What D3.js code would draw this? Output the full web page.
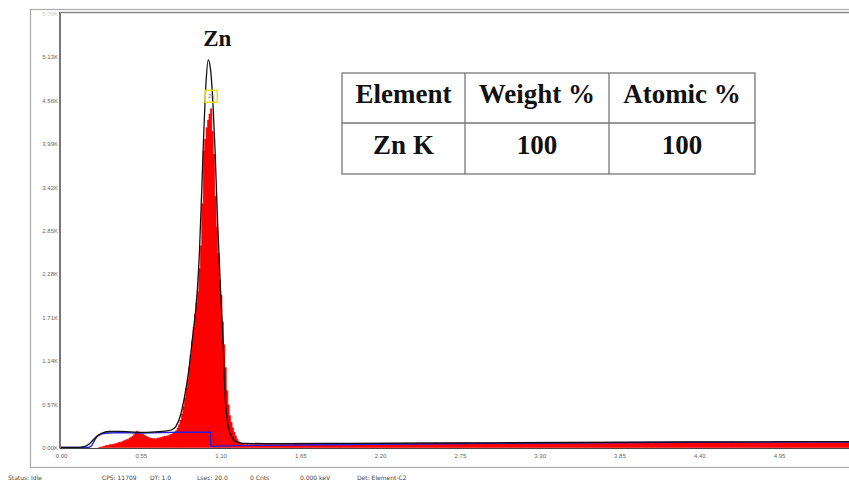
<!DOCTYPE html>
<html>
<head>
<meta charset="utf-8">
<script src="https://cdn.jsdelivr.net/npm/d3@7"></script>
<style>
  body { margin: 0; background: #fff; }
  svg { display: block; font-family: "DejaVu Sans", sans-serif; }
</style>
</head>
<body>
<div id="chart"></div>
<script>
// EDS spectrum (counts vs keV)
const peakStart = 0.26
const peakStep = 0.01
const peakCounts = [
  0, 5, 10, 15, 20, 28, 25, 35, 40, 38, 45, 50, 55, 62, 70, 68, 80, 90, 95, 105,
  110, 125, 135, 150, 170, 195, 215, 205, 190, 170, 180, 160, 150, 140, 130, 125, 120, 115, 118, 110,
  125, 120, 130, 135, 140, 150, 145, 155, 160, 170, 175, 190, 200, 220, 255, 300, 360, 440, 540, 650,
  780, 900, 1050, 1220, 1400, 1580, 1750, 1900, 2050, 2350, 2650, 3200, 3900, 4050, 4200, 4300, 4380, 4450, 4150, 3850,
  3300, 2900, 2550, 2200, 2000, 1650, 1350, 1050, 750, 560, 420, 330, 260, 200, 150, 110, 80, 60, 50, 45,
  40, 38, 42, 36, 40
]
const tailStart = 1.35
const tailStep = 0.05
const tailCounts = [
  38, 42, 40, 44, 41, 45, 43, 47, 44, 46, 48, 45, 50, 47, 49, 52, 48, 51, 53, 50,
  54, 52, 55, 51, 56, 53, 57, 55, 58, 54, 56, 59, 55, 58, 60, 57, 59, 61, 58, 62,
  60, 63, 59, 62, 64, 61, 63, 65, 62, 66, 64, 67, 63, 66, 68, 65, 67, 69, 66, 68,
  70, 67, 69, 66, 68, 70, 67, 69, 65, 68, 66, 69, 67, 65, 68, 66, 64, 67, 65, 66,
  64, 66, 65, 64
]

// fitted spectrum (black) and background (blue)
const fitKeV = [0, 0.10, 0.13, 0.16, 0.19, 0.22, 0.25, 0.28, 0.33, 0.40, 0.48, 0.56, 0.65, 0.72, 0.76, 0.79, 0.82, 0.85, 0.88, 0.905,
  0.94, 0.955, 0.98, 1.00, 1.015, 1.03, 1.048, 1.062, 1.08, 1.10, 1.117, 1.131, 1.15, 1.18, 1.21, 1.26, 1.5, 2.0, 3.0, 4.0, 5.0, 5.5]
const fitCounts = [0, 0, 2, 10, 40, 95, 150, 185, 210, 212, 205, 198, 205, 215, 230, 270, 400, 650, 1000, 1410,
  2070, 2590, 3910, 4800, 5090, 4980, 4500, 3910, 2950, 2070, 1410, 700, 320, 130, 75, 55, 50, 55, 62, 70, 76, 76]
const bgKeV = [0, 0.19, 0.21, 0.23, 0.25, 0.28, 0.33, 0.40, 0.55, 0.70, 0.80, 1.03, 1.033, 1.2, 2.0, 3.0, 4.0, 5.0, 5.5]
const bgCounts = [0, 0, 20, 90, 150, 180, 190, 195, 190, 195, 200, 200, 15, 25, 40, 55, 65, 72, 72]

const yTicks = [0, 570, 1140, 1710, 2280, 2850, 3420, 3990, 4560, 5130, 5700]
const xTicks = [0, 0.55, 1.10, 1.65, 2.20, 2.75, 3.30, 3.85, 4.40, 4.95]

const peakLabel = 'Zn'
const tableHeaders = ['Element', 'Weight %', 'Atomic %']
const tableRows = [['Zn K', '100', '100']]
const statusItems = ['Status: Idle', 'CPS: 11709', 'DT: 1.0', 'Lsec: 20.0', '0 Cnts', '0.000 keV', 'Det: Element-C2']

const W = 849, H = 483
const svg = d3.select('#chart').append('svg').attr('width', W).attr('height', H)

const x = d3.scaleLinear().domain([0, 5.5]).range([61, 61 + 5.5 * 145.05])
const y = d3.scaleLinear().domain([0, 5700]).range([447.5, 13.5])

// outer frame
svg.append('rect').attr('x', 30.5).attr('y', 9.5).attr('width', W).attr('height', 458)
  .attr('fill', 'none').attr('stroke', '#aaa').attr('stroke-width', 1.2)

svg.append('defs').append('clipPath').attr('id', 'plotClip')
  .append('rect').attr('x', 61).attr('y', 13).attr('width', W - 61).attr('height', 435)

const plot = svg.append('g').attr('clip-path', 'url(#plotClip)')

const spectrum = peakCounts.map((c, i) => ({ e: peakStart + i * peakStep, c }))
  .concat(tailCounts.map((c, i) => ({ e: tailStart + i * tailStep, c })))

plot.append('path')
  .datum(spectrum)
  .attr('fill', '#ff0000')
  .attr('stroke', '#ff0000').attr('stroke-width', 0.6)
  .attr('d', d3.area().curve(d3.curveStepAfter).x((d) => x(d.e)).y0(y(0)).y1((d) => y(d.c)))

plot.append('path')
  .datum(bgKeV.map((e, i) => [e, bgCounts[i]]))
  .attr('fill', 'none').attr('stroke', '#2020e0').attr('stroke-width', 1.4)
  .attr('d', d3.line().x((d) => x(d[0])).y((d) => y(d[1])))

plot.append('path')
  .datum(fitKeV.map((e, i) => [e, fitCounts[i]]))
  .attr('fill', 'none').attr('stroke', '#111').attr('stroke-width', 1.3)
  .attr('d', d3.line().curve(d3.curveMonotoneX).x((d) => x(d[0])).y((d) => y(d[1])))

// axes
const yAxis = svg.append('g').attr('transform', 'translate(60,0)')
  .call(d3.axisLeft(y).tickValues(yTicks).tickSize(0).tickPadding(2)
    .tickFormat((d) => (d / 1000).toFixed(2) + 'K'))
yAxis.select('.domain').remove()
yAxis.selectAll('text').attr('font-size', 6).attr('fill', '#666')
  .attr('opacity', (d) => (d === 5700 ? 0.35 : 1))

const xAxis = svg.append('g').attr('transform', 'translate(0,448)')
  .call(d3.axisBottom(x).tickValues(xTicks).tickSize(0).tickPadding(6)
    .tickFormat(d3.format('.2f')))
xAxis.select('.domain').remove()
xAxis.selectAll('text').attr('font-size', 6).attr('fill', '#666')

svg.append('line').attr('x1', 60).attr('x2', 60).attr('y1', 12).attr('y2', 448.5)
  .attr('stroke', '#555').attr('stroke-width', 1.6)
svg.append('line').attr('x1', 60).attr('x2', W).attr('y1', 448.5).attr('y2', 448.5)
  .attr('stroke', '#444').attr('stroke-width', 1.2)
svg.append('line').attr('x1', 60).attr('x2', W).attr('y1', 12.5).attr('y2', 12.5)
  .attr('stroke', '#888').attr('stroke-width', 1.4)

// peak label and marker
const peakE = fitKeV[fitCounts.indexOf(d3.max(fitCounts))]
svg.append('text').attr('x', x(peakE) + 9).attr('y', 46)
  .attr('text-anchor', 'middle').attr('font-family', '"Liberation Serif", "Times New Roman", serif')
  .attr('font-weight', 'bold').attr('font-size', 23).attr('fill', '#111').text(peakLabel)
const marker = svg.append('g').attr('transform', `translate(${x(peakE) + 3},${y(4560) - 4})`)
marker.append('rect').attr('x', -6).attr('y', -6).attr('width', 12).attr('height', 12)
  .attr('fill', 'none').attr('stroke', '#eee000').attr('stroke-width', 1.5)
marker.append('text').attr('text-anchor', 'middle').attr('y', 2).attr('font-size', 5)
  .attr('fill', '#777').text(peakLabel)

// results table
const colEdges = [342, 465, 609, 755]
const rowEdges = [73, 123, 174]
const table = svg.append('g')
table.append('rect').attr('x', colEdges[0]).attr('y', rowEdges[0])
  .attr('width', colEdges[3] - colEdges[0]).attr('height', rowEdges[2] - rowEdges[0])
  .attr('fill', '#fff').attr('stroke', '#777').attr('stroke-width', 1.3)
colEdges.slice(1, 3).forEach((cx) => table.append('line').attr('x1', cx).attr('x2', cx)
  .attr('y1', rowEdges[0]).attr('y2', rowEdges[2]).attr('stroke', '#777').attr('stroke-width', 1.3))
table.append('line').attr('x1', colEdges[0]).attr('x2', colEdges[3])
  .attr('y1', rowEdges[1]).attr('y2', rowEdges[1]).attr('stroke', '#777').attr('stroke-width', 1.3)
;[tableHeaders].concat(tableRows).forEach((row, r) => {
  row.forEach((cell, c) => {
    table.append('text')
      .attr('x', (colEdges[c] + colEdges[c + 1]) / 2)
      .attr('y', (rowEdges[r] + rowEdges[r + 1]) / 2 + 5)
      .attr('text-anchor', 'middle')
      .attr('font-family', '"Liberation Serif", "Times New Roman", serif')
      .attr('font-weight', 'bold').attr('font-size', 27).attr('fill', '#111')
      .text(cell)
  })
})

// status bar
const statusX = [8, 102, 150, 197, 250, 300, 357]
svg.selectAll('.status').data(statusItems).enter().append('text')
  .attr('class', 'status')
  .attr('x', (d, i) => statusX[i]).attr('y', 480)
  .attr('font-size', 6).attr('fill', '#444')
  .text((d) => d)
</script>
</body>
</html>
